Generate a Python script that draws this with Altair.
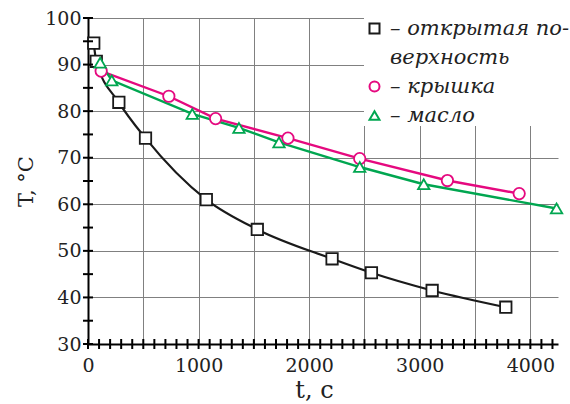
import altair as alt
import pandas as pd

# ---- values ----
open_t = [52, 75, 279, 520, 1070, 1531, 2207, 2563, 3112, 3778]
open_T = [94.6, 90.7, 81.9, 74.2, 61.0, 54.6, 48.3, 45.3, 41.5, 37.9]
lid_t = [119, 731, 1154, 1808, 2457, 3250, 3899]
lid_T = [88.6, 83.2, 78.4, 74.2, 69.8, 65.1, 62.3]
oil_t = [110, 215, 943, 1365, 1727, 2457, 3036, 4237]
oil_T = [90.4, 86.6, 79.4, 76.4, 73.3, 68.0, 64.3, 59.1]

# legend labels (first label wraps onto a second row, as in the original)
series_names = ["– открытая по-", "верхность", "– крышка", "– масло"]
x_ticks = list(range(0, 4300, 100))
x_grid = list(range(500, 4001, 500))
y_ticks = list(range(30, 101, 5))
y_grid = list(range(40, 101, 10))

rows = []
for name, ts, Ts in [(series_names[0], open_t, open_T),
                     (series_names[2], lid_t, lid_T),
                     (series_names[3], oil_t, oil_T)]:
    for t, T in zip(ts, Ts):
        rows.append({"series": name, "t": t, "T": T})
df = pd.DataFrame(rows)
x_tick_df = pd.DataFrame({"t": x_ticks})
y_tick_df = pd.DataFrame({"T": y_ticks})

colors = ["#1a1a1a", "transparent", "#e5097f", "#00a650"]
shapes = ["square", "circle", "circle", "triangle-up"]

serif = "DejaVu Serif"
x_scale = alt.Scale(domain=[0, 4250], nice=False, zero=False)
y_scale = alt.Scale(domain=[30, 100], nice=False, zero=False)

x_axis = alt.Axis(
    values=x_ticks,
    labelExpr="datum.value % 1000 === 0 ? format(datum.value, 'd') : ''",
    labelOverlap=False, labelFlush=False, grid=False, ticks=False, tickSize=0,
    domainColor="black", domainWidth=2,
    labelFont=serif, labelFontSize=19, labelColor="#222", labelPadding=12,
    title="t,   с", titleFont=serif, titleFontSize=24, titleFontWeight="normal",
    titleColor="#222", titleX=226, titleY=53, titleBaseline="alphabetic", titleAlign="center",
)
y_axis = alt.Axis(
    values=y_ticks,
    labelExpr="datum.value % 10 === 0 ? format(datum.value, 'd') : ''",
    labelOverlap=False, grid=False, ticks=False, tickSize=0,
    domainColor="black", domainWidth=2,
    labelFont=serif, labelFontSize=19, labelColor="#222", labelPadding=7,
    title="T,   °C", titleFont=serif, titleFontSize=21, titleFontWeight="normal",
    titleColor="#222", titleX=-56, titleY=163, titleBaseline="alphabetic", titleAlign="center",
    titleAngle=270,
)
x_grid_axis = alt.Axis(values=x_grid, orient="top", grid=True, gridColor="#808080", gridWidth=1,
                       domain=False, ticks=False, labels=False, title=None)
y_grid_axis = alt.Axis(values=y_grid, orient="right", grid=True, gridColor="#808080", gridWidth=1,
                       domain=False, ticks=False, labels=False, title=None)

legend = alt.Legend(
    title=None, orient="none", legendX=276, legendY=0,
    fillColor="white", padding=0, rowPadding=7,
    labelFont=serif, labelFontStyle="italic", labelFontSize=21, labelColor="#222",
    labelOffset=5, labelLimit=400, symbolStrokeWidth=2, symbolSize=100,
)

# grid-only layer (independent axis, same scales)
grid = alt.Chart(df).mark_point(opacity=0).encode(
    x=alt.X("t:Q", scale=x_scale, axis=x_grid_axis),
    y=alt.Y("T:Q", scale=y_scale, axis=y_grid_axis),
)

# tick marks crossing the axis lines, as in the original
x_tick_layer = alt.Chart(x_tick_df).mark_tick(
    orient="vertical", size=10, thickness=2, color="black", opacity=1
).encode(
    x=alt.X("t:Q", scale=x_scale, axis=x_axis),
    y=alt.YDatum(30, type="quantitative", scale=y_scale, axis=y_axis),
)
y_tick_layer = alt.Chart(y_tick_df).mark_tick(
    orient="horizontal", size=10, thickness=2, color="black", opacity=1
).encode(
    x=alt.XDatum(0, type="quantitative", scale=x_scale, axis=x_axis),
    y=alt.Y("T:Q", scale=y_scale, axis=y_axis),
)

def line_layer(name, interp, width):
    return alt.Chart(df).transform_filter(alt.datum.series == name).mark_line(
        interpolate=interp, strokeWidth=width, color=colors[series_names.index(name)]
    ).encode(
        x=alt.X("t:Q", scale=x_scale, axis=x_axis),
        y=alt.Y("T:Q", scale=y_scale, axis=y_axis),
    )

points = alt.Chart(df).mark_point(filled=False, fill="white", fillOpacity=1, opacity=1,
                                  strokeWidth=1.8, size=130).encode(
    x=alt.X("t:Q", scale=x_scale, axis=x_axis),
    y=alt.Y("T:Q", scale=y_scale, axis=y_axis),
    color=alt.Color("series:N", scale=alt.Scale(domain=series_names, range=colors), legend=legend),
    shape=alt.Shape("series:N", scale=alt.Scale(domain=series_names, range=shapes), legend=legend),
)

main = alt.layer(
    line_layer(series_names[0], "monotone", 2.2),
    line_layer(series_names[2], "linear", 2.4),
    line_layer(series_names[3], "linear", 2.4),
    points,
    x_tick_layer,
    y_tick_layer,
)

chart = alt.layer(grid, main).resolve_axis(x="independent", y="independent").properties(
    width=470, height=326,
    autosize=alt.AutoSizeParams(type="none"),
    padding={"left": 88, "top": 18, "right": 12, "bottom": 60},
    background="white",
).configure_view(stroke="transparent")

chart.save("out.html", embed_options={"renderer": "svg", "actions": False})
